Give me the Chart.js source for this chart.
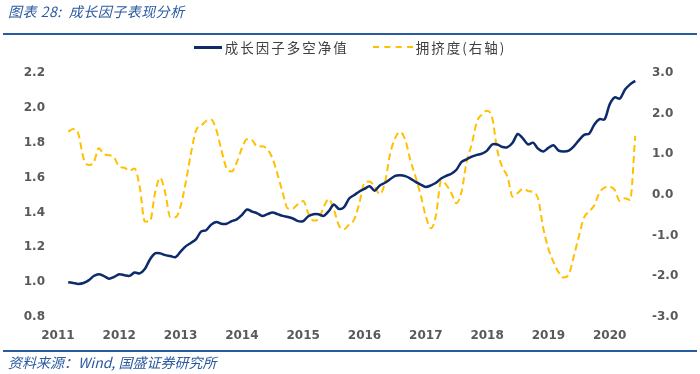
<!DOCTYPE html>
<html>
<head>
<meta charset="utf-8">
<script src="https://cdn.jsdelivr.net/npm/chart.js@4"></script>
<style>
    body { margin: 0; background: #fff; }
    #wrap { position: relative; width: 700px; height: 374px; overflow: hidden; font-family: "Noto Sans CJK SC", "Noto Sans", sans-serif; }
    #chart { position: absolute; left: 0; top: 0; }
    .title { position: absolute; left: 8px; top: 1px; font-size: 14px; font-style: italic; color: #2a5aa0; letter-spacing: 0.5px; }
    .rule { position: absolute; left: 3px; width: 694px; height: 2px; background: #2a5aa0; }
    .source { position: absolute; left: 8px; top: 352px; font-size: 14px; font-style: italic; color: #2a5aa0; }
    .legend { position: absolute; top: 35px; left: 0; width: 700px; text-align: center; font-size: 13.5px; color: #404040; letter-spacing: 2px; }
    .legend span { display: inline-block; vertical-align: middle; }
    .swatch { width: 28px; margin-right: 3px; }
    .solid { border-top: 3px solid #0d2a6b; }
    .dashed { border-top: 2px dashed #ffc000; width: 40px; }
</style>
</head>
<body>
<div id="wrap">
    <canvas id="chart" width="700" height="374"></canvas>
    <div class="title">图表 28:&nbsp; 成长因子表现分析</div>
    <div class="rule" style="top: 33px;"></div>
    <div class="legend">
        <span class="swatch solid"></span><span>成长因子多空净值</span>
        <span style="width: 14px;"></span>
        <span class="swatch dashed"></span><span>拥挤度(右轴)</span>
    </div>
    <div class="rule" style="top: 350px;"></div>
    <div class="source">资料来源：Wind, 国盛证券研究所</div>
</div>
<script>
// monthly readings, Mar 2011 - Jun 2020
const months = [
    '2011-03','2011-04','2011-05','2011-06','2011-07','2011-08','2011-09','2011-10','2011-11','2011-12',
    '2012-01','2012-02','2012-03','2012-04','2012-05','2012-06','2012-07','2012-08','2012-09','2012-10','2012-11','2012-12',
    '2013-01','2013-02','2013-03','2013-04','2013-05','2013-06','2013-07','2013-08','2013-09','2013-10','2013-11','2013-12',
    '2014-01','2014-02','2014-03','2014-04','2014-05','2014-06','2014-07','2014-08','2014-09','2014-10','2014-11','2014-12',
    '2015-01','2015-02','2015-03','2015-04','2015-05','2015-06','2015-07','2015-08','2015-09','2015-10','2015-11','2015-12',
    '2016-01','2016-02','2016-03','2016-04','2016-05','2016-06','2016-07','2016-08','2016-09','2016-10','2016-11','2016-12',
    '2017-01','2017-02','2017-03','2017-04','2017-05','2017-06','2017-07','2017-08','2017-09','2017-10','2017-11','2017-12',
    '2018-01','2018-02','2018-03','2018-04','2018-05','2018-06','2018-07','2018-08','2018-09','2018-10','2018-11','2018-12',
    '2019-01','2019-02','2019-03','2019-04','2019-05','2019-06','2019-07','2019-08','2019-09','2019-10','2019-11','2019-12',
    '2020-01','2020-02','2020-03','2020-04','2020-05','2020-06'
];

const netValue = [
    1.00, 0.995, 0.99, 0.995, 1.01, 1.035, 1.045, 1.035, 1.02, 1.03,
    1.045, 1.04, 1.036, 1.055, 1.05, 1.075, 1.13, 1.165, 1.165, 1.155, 1.15, 1.143,
    1.175, 1.205, 1.225, 1.245, 1.29, 1.298, 1.33, 1.345, 1.335, 1.335, 1.35, 1.36,
    1.385, 1.417, 1.405, 1.395, 1.38, 1.39, 1.40, 1.39, 1.38, 1.374, 1.365, 1.35,
    1.35, 1.378, 1.39, 1.39, 1.38, 1.407, 1.445, 1.42, 1.43, 1.48, 1.50, 1.52,
    1.535, 1.55, 1.525, 1.555, 1.57, 1.59, 1.61, 1.613, 1.608, 1.594, 1.575, 1.56,
    1.546, 1.555, 1.57, 1.595, 1.61, 1.622, 1.645, 1.69, 1.705, 1.72, 1.73, 1.737,
    1.755, 1.79, 1.79, 1.775, 1.775, 1.80, 1.85, 1.825, 1.79, 1.80, 1.765, 1.75,
    1.77, 1.785, 1.755, 1.75, 1.755, 1.78, 1.815, 1.845, 1.852, 1.905, 1.935, 1.934,
    2.02, 2.06, 2.053, 2.105, 2.135, 2.155
];

const crowding = [
    1.56, 1.62, 1.5, 0.9, 0.74, 0.8, 1.15, 1.0, 0.98, 0.92,
    0.7, 0.67, 0.6, 0.65, 0.2, -0.65, -0.65, 0.05, 0.42, 0.05, -0.55, -0.55,
    -0.28, 0.3, 1.0, 1.58, 1.7, 1.82, 1.85, 1.6, 1.1, 0.66, 0.58, 0.8,
    1.15, 1.37, 1.35, 1.19, 1.2, 1.12, 0.9, 0.5, 0.05, -0.33, -0.33, -0.22,
    -0.15, -0.45, -0.63, -0.6, -0.3, -0.1, -0.35, -0.75, -0.84, -0.72, -0.6, -0.2,
    0.3, 0.33, 0.2, 0.02, 0.3, 1.0, 1.4, 1.55, 1.35, 0.85, 0.45, 0.0,
    -0.52, -0.82, -0.5, 0.35, 0.25, 0.05, -0.2, 0.08, 0.82, 1.25, 1.8, 1.98,
    2.07, 1.9, 1.1, 0.68, 0.45, -0.04, 0.05, 0.15, 0.1, 0.07, -0.1, -0.82,
    -1.32, -1.65, -1.9, -2.03, -1.95, -1.5, -1.0, -0.55, -0.4, -0.25, 0.06, 0.18,
    0.2, 0.12, -0.15, -0.08, -0.12, 1.45
];

const yearTicks = [2011, 2012, 2013, 2014, 2015, 2016, 2017, 2018, 2019, 2020];
const leftTicks = [0.8, 1.0, 1.2, 1.4, 1.6, 1.8, 2.0, 2.2];
const rightTicks = [-3, -2, -1, 0, 1, 2, 3];

function toYear(m) {
    const parts = m.split('-');
    return Number(parts[0]) + (Number(parts[1]) - 1) / 12;
}

function points(values) {
    return values.map((v, i) => ({ x: toYear(months[i]), y: v }));
}

const tickFont = { family: 'DejaVu Sans', size: 12, weight: 'bold' };
const tickColor = '#595959';

new Chart(document.getElementById('chart'), {
    type: 'line',
    data: {
        datasets: [
            {
                label: '成长因子多空净值',
                data: points(netValue),
                yAxisID: 'y',
                borderColor: '#0d2a6b',
                borderWidth: 2.5,
                pointRadius: 0,
                tension: 0.3,
                order: 1
            },
            {
                label: '拥挤度(右轴)',
                data: points(crowding),
                yAxisID: 'y1',
                borderColor: '#ffc000',
                borderWidth: 2,
                borderDash: [7, 4],
                pointRadius: 0,
                cubicInterpolationMode: 'monotone',
                order: 2
            }
        ]
    },
    options: {
        responsive: false,
        animation: false,
        layout: { padding: { top: 73, left: 0, right: 0, bottom: 0 } },
        plugins: { legend: { display: false }, tooltip: { enabled: false } },
        scales: {
            x: {
                type: 'linear',
                min: 2010.87,
                max: 2020.625,
                grid: { display: false, drawTicks: false },
                border: { display: false },
                afterBuildTicks: scale => { scale.ticks = yearTicks.map(v => ({ value: v })); },
                afterFit: scale => { scale.height = 57; },
                ticks: { font: tickFont, color: tickColor, padding: 12, maxRotation: 0, callback: v => String(v) }
            },
            y: {
                position: 'left',
                min: 0.8,
                max: 2.2,
                grid: { display: false, drawTicks: false },
                border: { display: false },
                afterBuildTicks: scale => { scale.ticks = leftTicks.map(v => ({ value: v })); },
                afterFit: scale => { scale.width = 50; },
                ticks: { font: tickFont, color: tickColor, padding: 5, callback: v => v.toFixed(1) }
            },
            y1: {
                position: 'right',
                min: -3,
                max: 3,
                grid: { display: false, drawTicks: false },
                border: { display: false },
                afterBuildTicks: scale => { scale.ticks = rightTicks.map(v => ({ value: v })); },
                afterFit: scale => { scale.width = 52; },
                ticks: { font: tickFont, color: tickColor, padding: 4, callback: v => v.toFixed(1) }
            }
        }
    }
});
</script>
</body>
</html>
